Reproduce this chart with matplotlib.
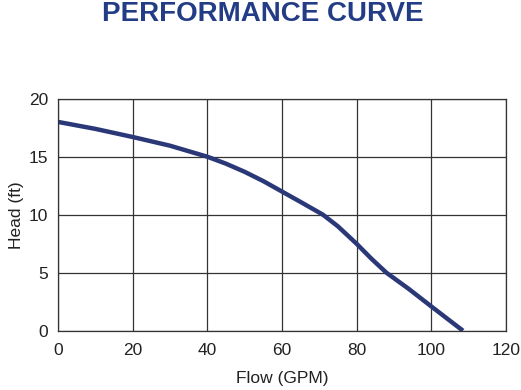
import numpy as np
import matplotlib
matplotlib.use("Agg")
import matplotlib.pyplot as plt

# datos
flujo = [0, 10, 20, 30, 40, 45, 50, 55, 60, 65, 71, 75, 80, 84, 88, 94, 100, 108.5]
altura = [18, 17.4, 16.7, 15.95, 15.0, 14.4, 13.7, 12.9, 12.0, 11.1, 10.0, 9.0, 7.5, 6.2, 5.0, 3.6, 2.1, 0]
xticks = [0, 20, 40, 60, 80, 100, 120]
yticks = [0, 5, 10, 15, 20]

plt.rcParams['font.family'] = ['Liberation Sans', 'DejaVu Sans']

fig = plt.figure(figsize=(5.21, 3.9), dpi=100)
ax = fig.add_axes([0.111, 0.152, 0.86, 0.595])

ax.plot(flujo, altura, color="#2b3878", lw=3.2, solid_capstyle="butt",
        solid_joinstyle="round")

ax.set_xlim(0, 120)
ax.set_ylim(0, 20)
ax.set_xticks(xticks)
ax.set_yticks(yticks)
ax.grid(True, color="#333333", lw=0.9)
ax.set_axisbelow(True)
ax.tick_params(length=0, labelsize=12.5, colors="#222222")
ax.tick_params(axis="x", pad=9)
ax.tick_params(axis="y", pad=7)
for s in ax.spines.values():
    s.set_color("#333333")
    s.set_linewidth(0.9)

ax.set_xlabel("Flow (GPM)", fontsize=12.5, color="#222222", labelpad=9)
ax.set_ylabel("Head (ft)", fontsize=12.5, color="#222222", labelpad=3)

fig.text(0.505, 0.963, "PERFORMANCE CURVE", ha="center", va="center",
         fontsize=20, fontweight="bold", color="#233c86")

fig.savefig("out.png", dpi=100)
